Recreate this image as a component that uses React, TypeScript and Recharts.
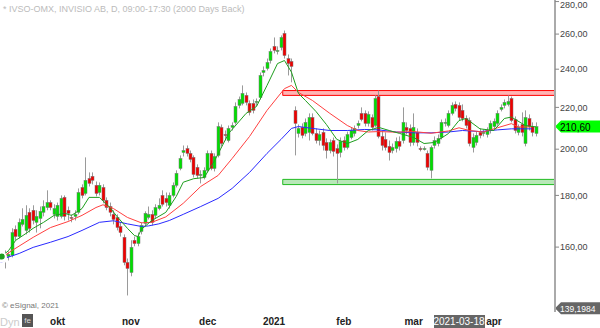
// Daily candles for INVISIO AB with three moving averages and two zones.

import { ComposedChart, Bar, Line, XAxis, YAxis, ReferenceArea, ReferenceLine } from 'recharts';

const opens = [
  156.3, 157.4, 156.6, 157.0, 166.6, 163.9, 168.5, 166.2, 173.2, 174.0,
  169.3, 170.8, 173.2, 175.1, 177.1, 172.4, 171.6, 171.6, 179.2, 174.0,
  171.2, 171.6, 173.2, 183.3, 180.8, 187.1, 188.0, 184.2, 181.2, 183.3,
  178.0, 175.5, 172.4, 171.2, 167.7, 163.6, 154.5, 151.0, 162.5, 161.3,
  165.8, 168.9, 171.2, 172.4, 172.0, 174.7, 180.0, 178.8, 176.0, 180.0,
  184.2, 191.4, 198.5, 200.3, 198.1, 196.3, 191.9, 188.4, 187.5, 190.6,
  198.1, 191.4, 197.2, 210.2, 206.8, 204.0, 210.2, 212.6, 221.0, 222.0,
  226.1, 222.0, 222.0, 222.5, 225.0, 238.2, 240.4, 244.8, 252.8, 249.9,
  252.2, 260.4, 245.9, 244.3, 218.5, 207.3, 210.2, 207.3, 207.8, 215.0,
  207.3, 204.0, 207.8, 203.1, 199.4, 204.0, 200.3, 198.5, 204.0, 200.8,
  205.4, 207.3, 211.1, 217.0, 217.0, 212.1, 215.0, 211.1, 225.5, 205.9,
  204.5, 201.3, 199.4, 200.3, 203.6, 204.0, 210.2, 209.7, 203.1, 207.8,
  200.3, 199.9, 198.1, 190.6, 201.7, 202.6, 205.4, 212.1, 211.1, 217.0,
  221.5, 221.0, 218.5, 214.5, 213.5, 200.8, 203.1, 207.8, 207.3, 206.8,
  208.7, 210.6, 212.1, 219.0, 221.0, 221.5, 224.5, 214.0, 207.8, 211.6,
  202.6, 214.5, 210.6, 207.3,
];

const closes = [
  157.0, 156.3, 157.4, 165.4, 163.9, 169.3, 170.4, 172.0, 166.9, 170.0,
  171.6, 173.6, 175.5, 177.1, 175.1, 174.7, 176.0, 178.8, 171.6, 172.8,
  170.8, 172.4, 181.2, 180.0, 186.3, 185.0, 186.3, 180.8, 184.2, 178.0,
  175.1, 173.2, 170.4, 167.3, 165.4, 154.5, 152.4, 159.9, 161.3, 163.9,
  168.1, 172.8, 172.4, 169.3, 175.1, 176.0, 176.4, 177.1, 180.0, 184.2,
  189.3, 195.8, 199.4, 198.1, 195.4, 188.8, 188.4, 188.8, 190.6, 198.1,
  191.4, 196.7, 210.6, 202.6, 206.4, 209.7, 211.1, 220.5, 224.0, 227.1,
  222.5, 217.5, 218.5, 223.0, 236.6, 239.3, 243.7, 249.9, 250.5, 250.5,
  258.0, 247.6, 243.1, 241.5, 212.1, 209.7, 206.4, 212.6, 215.0, 207.3,
  204.0, 206.8, 201.7, 199.4, 203.1, 199.0, 198.1, 203.6, 200.8, 206.8,
  208.7, 209.7, 212.1, 214.0, 212.1, 216.5, 210.2, 224.5, 205.9, 201.7,
  200.8, 198.5, 200.8, 203.6, 201.3, 212.6, 208.7, 203.1, 210.2, 203.1,
  199.9, 200.3, 191.9, 200.8, 204.0, 205.0, 212.6, 212.6, 217.0, 221.0,
  219.5, 215.0, 214.5, 211.1, 202.6, 205.4, 206.4, 206.4, 207.8, 208.7,
  212.1, 213.1, 217.0, 220.0, 222.5, 223.0, 213.5, 208.7, 210.2, 207.8,
  215.0, 210.6, 207.8, 210.6,
];

const highs = [
  158.1, 158.8, 158.4, 167.0, 168.1, 170.8, 174.8, 176.0, 174.8, 176.0,
  174.0, 175.5, 178.0, 182.1, 178.0, 176.4, 177.1, 180.0, 180.0, 175.5,
  172.4, 174.0, 182.9, 184.6, 196.3, 189.7, 189.7, 185.8, 185.4, 184.6,
  179.2, 177.1, 174.0, 172.4, 169.3, 164.7, 155.9, 162.5, 163.9, 165.4,
  169.3, 173.6, 175.5, 174.0, 176.4, 178.8, 182.1, 181.2, 181.2, 185.4,
  190.6, 197.2, 201.7, 201.7, 199.4, 197.2, 193.2, 190.6, 191.9, 199.4,
  199.4, 198.1, 212.6, 211.6, 208.7, 211.1, 212.6, 222.5, 225.5, 231.3,
  227.6, 223.5, 224.0, 224.5, 238.2, 241.5, 245.9, 251.6, 258.0, 252.8,
  259.2, 262.1, 248.2, 245.9, 220.5, 211.6, 212.1, 214.5, 217.0, 217.0,
  209.7, 208.7, 209.7, 205.0, 204.5, 205.4, 202.2, 205.4, 205.9, 208.2,
  210.2, 211.1, 213.5, 220.0, 218.5, 218.0, 216.5, 226.1, 228.6, 208.7,
  207.8, 204.0, 202.6, 205.4, 205.9, 220.0, 212.6, 211.6, 217.0, 209.7,
  201.3, 201.3, 199.4, 201.7, 205.9, 206.8, 214.0, 214.5, 218.5, 222.5,
  223.0, 222.5, 221.5, 216.0, 215.0, 207.3, 208.2, 209.7, 209.2, 210.2,
  213.5, 214.5, 218.5, 221.5, 224.0, 226.1, 225.5, 215.5, 211.6, 217.5,
  218.5, 216.5, 212.6, 212.6,
];

const lows = [
  154.5, 152.4, 155.2, 156.3, 162.5, 163.2, 167.7, 164.7, 165.4, 168.5,
  165.4, 167.0, 171.6, 174.0, 174.0, 170.8, 170.0, 170.8, 170.0, 170.0,
  169.3, 170.0, 172.4, 178.8, 180.0, 183.7, 184.6, 179.6, 180.0, 176.8,
  174.0, 171.6, 168.5, 166.2, 163.9, 153.5, 143.3, 149.7, 160.3, 160.3,
  164.7, 167.7, 170.4, 168.1, 170.8, 174.0, 175.5, 175.5, 174.7, 179.2,
  183.3, 190.6, 196.7, 196.7, 194.1, 187.5, 187.1, 185.0, 186.7, 189.7,
  190.6, 190.1, 196.3, 201.3, 204.0, 203.1, 208.7, 211.6, 219.5, 221.0,
  221.0, 216.0, 217.0, 220.5, 224.0, 236.1, 239.3, 243.1, 248.8, 248.2,
  250.5, 245.9, 236.6, 232.9, 197.2, 205.4, 205.0, 205.9, 204.0, 206.4,
  202.6, 201.7, 199.4, 195.8, 198.1, 196.7, 185.0, 196.3, 199.4, 199.9,
  204.5, 205.9, 209.7, 213.1, 210.6, 210.6, 208.7, 210.2, 205.0, 199.4,
  199.4, 194.9, 198.1, 198.5, 199.4, 202.6, 206.8, 201.3, 201.7, 201.3,
  199.0, 199.4, 190.6, 187.1, 200.3, 201.3, 204.5, 210.6, 210.2, 216.0,
  218.0, 213.5, 213.1, 209.7, 201.3, 198.5, 201.7, 205.0, 205.9, 205.4,
  207.3, 209.2, 211.1, 218.0, 219.5, 220.5, 212.6, 207.3, 206.4, 205.9,
  201.3, 208.7, 205.9, 205.9,
];

// moving averages as [candle index, value]
const maFast = [
  [0, 156.6], [2, 158.8], [4, 162.5], [7, 165.1], [9, 167.0], [12, 169.3], [15, 172.0],
  [18, 172.8], [20, 172.0], [23, 174.7], [25, 179.2], [28, 179.2], [31, 175.1], [33, 171.6],
  [36, 167.0], [38, 164.3], [39, 163.9], [40, 166.6], [43, 170.0], [47, 173.2], [50, 179.6],
  [52, 185.5], [55, 187.0], [58, 187.5], [61, 194.9], [65, 207.3], [70, 217.0], [73, 220.5],
  [76, 231.3], [79, 243.1], [81, 244.8], [83, 238.4], [85, 227.1], [87, 223.5], [90, 218.0],
  [93, 211.6], [96, 204.5], [99, 202.6], [102, 204.5], [105, 208.7], [108, 210.2], [111, 208.7],
  [114, 207.3], [118, 205.4], [121, 202.6], [124, 203.1], [128, 207.3], [131, 213.5],
  [133, 214.5], [137, 209.5], [141, 208.7], [144, 214.5], [146, 215.2], [150, 211.1], [153, 210.4],
];

const maMid = [
  [0, 156.3], [3, 158.8], [9, 163.6], [14, 167.3], [19, 169.6], [23, 172.0], [27, 175.1],
  [29, 176.2], [32, 174.7], [36, 171.2], [40, 169.1], [43, 169.3], [47, 171.4], [52, 176.8],
  [57, 183.7], [62, 188.4], [66, 195.8], [71, 205.9], [76, 218.5], [81, 229.6], [83, 231.3],
  [85, 227.6], [89, 223.5], [94, 217.0], [99, 211.1], [102, 208.7], [105, 208.0], [108, 208.2],
  [113, 207.9], [118, 208.2], [123, 207.4], [128, 208.5], [131, 210.0], [134, 208.7],
  [138, 208.0], [142, 210.0], [146, 212.0], [148, 210.4], [152, 210.4],
];

const maSlow = [
  [0, 155.6], [5, 157.7], [9, 159.9], [14, 161.8], [19, 163.9], [23, 166.2], [28, 169.3],
  [32, 169.9], [36, 168.7], [40, 167.7], [42, 167.9], [45, 168.7], [48, 170.0], [52, 172.4],
  [57, 175.5], [62, 178.8], [66, 182.9], [71, 189.7], [76, 198.1], [80, 204.5], [83, 209.7],
  [85, 210.6], [89, 209.7], [94, 208.7], [99, 208.7], [104, 209.2], [108, 209.0], [113, 208.0],
  [118, 207.6], [123, 207.6], [128, 208.0], [132, 208.7], [137, 208.2], [142, 209.0],
  [146, 209.5], [152, 209.5],
];

const monthTicks = [16, 37, 59, 78, 98, 118, 131, 141];
const monthLabels = ['okt', 'nov', 'dec', '2021', 'feb', 'mar', '2021-03-18', 'apr'];
const priceTicks = [160, 180, 200, 220, 240, 260, 280];

const resistance = [226.1, 228.6];
const support = [184.5, 186.7];
const lastPrice = 210.6;
const scaleLow = 139.1984;
const zoneStart = 81;
const emptySlots = 5;

const data: any[] = [];
for (let i = 0; i < opens.length + emptySlots; i++) {
  const row: any = { i };
  if (i < opens.length) {
    row.o = opens[i];
    row.c = closes[i];
    row.wick = [lows[i], highs[i]];
    row.body = [Math.min(opens[i], closes[i]), Math.max(opens[i], closes[i])];
  }
  data.push(row);
}
maFast.forEach(([i, v]) => (data[i].fast = v));
maMid.forEach(([i, v]) => (data[i].mid = v));
maSlow.forEach(([i, v]) => (data[i].slow = v));

const FONT = '"Liberation Sans", Arial, sans-serif';
const lastLabel = data.length - 1;
const LABEL_BASE = 325; // baseline of the month labels

function Wick(p: any) {
  const { x, y, width, height } = p;
  if (height == null || isNaN(y)) return null;
  const cx = Math.round(x + width / 2) + 0.5;
  return <line x1={cx} x2={cx} y1={y} y2={y + height} stroke="#9a9a9a" strokeWidth={1} />;
}

function Body(p: any) {
  const { x, y, width, height, payload } = p;
  if (payload.o == null || isNaN(y)) return null;
  const up = payload.c >= payload.o;
  const left = Math.round(x + width / 2) - 1;
  return (
    <rect
      x={left}
      y={y}
      width={3}
      height={Math.max(height, 1)}
      fill={up ? '#00e000' : '#f00000'}
      stroke="#777"
      strokeWidth={0.5}
    />
  );
}

function MonthTick({ x, payload }: any) {
  const label = monthLabels[monthTicks.indexOf(payload.value)];
  if (label === '2021-03-18') {
    return (
      <g>
        <rect x={x - 25} y={315} width={51} height={13} fill="#666" />
        <text x={x} y={LABEL_BASE} textAnchor="middle" fontSize={10} fill="#fff" fontFamily={FONT}>
          {label}
        </text>
      </g>
    );
  }
  return (
    <text x={x} y={LABEL_BASE} textAnchor="middle" fontSize={10} fontWeight="bold" fill="#222" fontFamily={FONT}>
      {label}
    </text>
  );
}

function tag(text: string, bg: string, fg: string, size: number) {
  return (props: any) => {
    const vb = props.viewBox;
    const x = vb.x + vb.width;
    const y = vb.y;
    return (
      <g>
        <polygon
          points={`${x},${y} ${x + 6},${y - 6} ${x + 50},${y - 6} ${x + 50},${y + 6} ${x + 6},${y + 6}`}
          fill={bg}
        />
        <text x={x + 5} y={y + 4} fontSize={size} fill={fg} fontFamily={FONT}>
          {text}
        </text>
      </g>
    );
  };
}

export default function App() {
  return (
    <div style={{ position: 'absolute', left: 0, top: 0, width: 600, height: 328, background: '#fff' }}>
      <ComposedChart width={600} height={328} data={data} margin={{ top: 0, right: 0, bottom: 0, left: 0 }}>
        <XAxis
          xAxisId="main"
          dataKey="i"
          type="category"
          ticks={monthTicks}
          interval={0}
          height={16}
          tick={<MonthTick />}
          tickSize={3}
          tickLine={{ stroke: '#999' }}
          axisLine={{ stroke: '#aaa', strokeWidth: 2 }}
        />
        <XAxis xAxisId="b" dataKey="i" type="category" hide />
        <YAxis
          orientation="right"
          scale="log"
          domain={[138, 281]}
          allowDataOverflow
          ticks={priceTicks}
          width={45}
          tickSize={4}
          tickMargin={1}
          tickLine={{ stroke: '#888' }}
          axisLine={{ stroke: '#aaa', strokeWidth: 2 }}
          tick={{ fontSize: 9, fill: '#444', fontFamily: FONT }}
          tickFormatter={(v: number) => v.toFixed(2).replace('.', ',')}
        />
        <ReferenceArea
          xAxisId="main"
          x1={zoneStart}
          x2={lastLabel}
          y1={resistance[0]}
          y2={resistance[1]}
          fill="#ffb4b4"
          fillOpacity={1}
          stroke="#ff0000"
        />
        <ReferenceArea
          xAxisId="main"
          x1={zoneStart}
          x2={lastLabel}
          y1={support[0]}
          y2={support[1]}
          fill="#b8e8b8"
          fillOpacity={1}
          stroke="#22bb22"
        />
        <Bar xAxisId="main" dataKey="wick" barSize={1} shape={<Wick />} isAnimationActive={false} />
        <Bar xAxisId="b" dataKey="body" barSize={3} shape={<Body />} isAnimationActive={false} />
        <Line xAxisId="main" dataKey="slow" stroke="#2a2aff" strokeWidth={1} dot={false} connectNulls isAnimationActive={false} />
        <Line xAxisId="main" dataKey="mid" stroke="#ff4040" strokeWidth={1} dot={false} connectNulls isAnimationActive={false} />
        <Line xAxisId="main" dataKey="fast" stroke="#1e9e1e" strokeWidth={1} dot={false} connectNulls isAnimationActive={false} />
        <ReferenceLine xAxisId="main" y={lastPrice} stroke="none" label={tag('210,60', '#00ff00', '#000', 10)} />
        <ReferenceLine xAxisId="main" y={scaleLow} stroke="none" label={tag('139,1984', '#666', '#fff', 8.5)} />
      </ComposedChart>
      <div style={{ position: 'absolute', left: 3, top: 4, fontSize: 9, color: '#bbb', fontFamily: FONT, whiteSpace: 'nowrap' }}>
        * IVSO-OMX, INVISIO AB, D, 09:00-17:30 (2000 Days Back)
      </div>
      <div style={{ position: 'absolute', left: 2, top: 301, fontSize: 8, color: '#777', fontFamily: FONT }}>
        © eSignal, 2021
      </div>
      <div style={{ position: 'absolute', left: 0, top: 316, fontSize: 11, color: '#ccc', fontFamily: FONT }}>
        Dyn
      </div>
      <div
        style={{
          position: 'absolute', left: 22, top: 314, width: 11, height: 13, background: '#555',
          color: '#ddd', fontSize: 8, fontFamily: FONT, textAlign: 'center', lineHeight: '13px',
        }}
      >
        fe
      </div>
    </div>
  );
}
